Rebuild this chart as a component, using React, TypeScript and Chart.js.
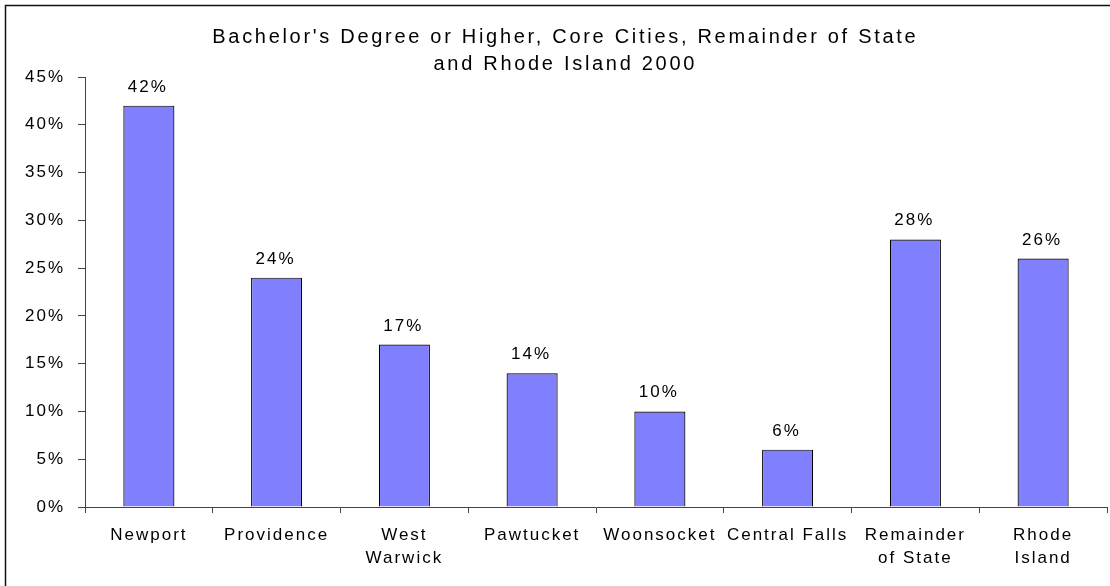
import React, { useEffect, useRef } from "react";
import { Chart, registerables } from "chart.js";

Chart.register(...registerables);

const categories: (string | string[])[] = [
  "Newport",
  "Providence",
  ["West", "Warwick"],
  "Pawtucket",
  "Woonsocket",
  "Central Falls",
  ["Remainder", "of State"],
  ["Rhode", "Island"],
];
const values: number[] = [42, 24, 17, 14, 10, 6, 28, 26];
const titleLines: string[] = [
  "Bachelor's Degree or Higher, Core Cities, Remainder of State",
  "and Rhode Island 2000",
];
const yMin = 0;
const yMax = 45;
const yStep = 5;

const FONT_FAMILY = '"Liberation Sans", Arial, sans-serif';
const TICK_SPACING = "2px";
const TITLE_SPACING = "2.7px";

const spacingPlugin = {
  id: "spacing",
  beforeUpdate(chart: any) {
    chart.ctx.letterSpacing = TICK_SPACING;
  },
  beforeDraw(chart: any) {
    chart.ctx.letterSpacing = TICK_SPACING;
  },
};

const framePlugin = {
  id: "frame",
  beforeDraw(chart: any) {
    const ctx = chart.ctx;
    ctx.save();
    ctx.fillStyle = "#fff";
    ctx.fillRect(0, 0, chart.width, chart.height);
    ctx.strokeStyle = "#111";
    ctx.lineWidth = 1.5;
    ctx.beginPath();
    ctx.moveTo(5.5, chart.height + 2);
    ctx.lineTo(5.5, 5.5);
    ctx.lineTo(chart.width + 2, 5.5);
    ctx.stroke();
    ctx.restore();
  },
};

const titlePlugin = {
  id: "customTitle",
  afterDraw(chart: any) {
    const ctx = chart.ctx;
    ctx.save();
    ctx.font = `20px ${FONT_FAMILY}`;
    ctx.letterSpacing = TITLE_SPACING;
    ctx.fillStyle = "#000";
    ctx.textAlign = "center";
    ctx.textBaseline = "alphabetic";
    const cx = 565.3;
    ctx.fillText(titleLines[0], cx, 43);
    ctx.fillText(titleLines[1], cx, 70);
    ctx.restore();
  },
};

const labelPlugin = {
  id: "valueLabels",
  afterDatasetsDraw(chart: any) {
    const ctx = chart.ctx;
    const meta = chart.getDatasetMeta(0);
    ctx.save();
    ctx.font = `17px ${FONT_FAMILY}`;
    ctx.letterSpacing = TICK_SPACING;
    ctx.fillStyle = "#000";
    ctx.textAlign = "center";
    ctx.textBaseline = "alphabetic";
    meta.data.forEach((bar: any, i: number) => {
      ctx.fillText(`${values[i]}%`, bar.x - 1, bar.y - 14);
    });
    ctx.restore();
  },
};

export default function App() {
  const canvasRef = useRef<HTMLCanvasElement | null>(null);

  useEffect(() => {
    if (!canvasRef.current) return;
    const chart = new Chart(canvasRef.current, {
      type: "bar",
      data: {
        labels: categories,
        datasets: [
          {
            data: values,
            backgroundColor: "#8080FF",
            borderColor: "#000",
            borderWidth: 1.2,
            barPercentage: 0.4,
            categoryPercentage: 1,
          },
        ],
      },
      options: {
        responsive: false,
        animation: false,
        devicePixelRatio: 1,
        layout: { padding: { top: 77, right: 3, left: 0, bottom: 0 } },
        plugins: {
          legend: { display: false },
          title: { display: false },
          tooltip: { enabled: false },
        },
        scales: {
          x: {
            grid: {
              display: true,
              drawOnChartArea: false,
              drawTicks: true,
              tickLength: 6,
              color: "#444",
              offset: true,
            },
            border: { display: true, color: "#444", width: 1 },
            ticks: {
              color: "#000",
              font: { family: FONT_FAMILY, size: 17, lineHeight: 1.33 },
              padding: 11,
              maxRotation: 0,
              autoSkip: false,
            },
            afterFit(scale: any) {
              scale.height = 79;
            },
          },
          y: {
            min: yMin,
            max: yMax,
            grid: {
              display: true,
              drawOnChartArea: false,
              drawTicks: true,
              tickLength: 7,
              color: "#444",
            },
            border: { display: true, color: "#444", width: 1 },
            ticks: {
              stepSize: yStep,
              color: "#000",
              font: { family: FONT_FAMILY, size: 17 },
              padding: 13,
              callback: (v: any) => `${v}%`,
            },
            afterFit(scale: any) {
              scale.width = 85;
            },
          },
        },
      },
      plugins: [spacingPlugin, framePlugin, titlePlugin, labelPlugin],
    } as any);
    return () => chart.destroy();
  }, []);

  return (
    <div style={{ position: "fixed", left: 0, top: 0, width: 1110, height: 586, background: "#fff" }}>
      <canvas ref={canvasRef} width={1110} height={586} style={{ display: "block" }} />
    </div>
  );
}
